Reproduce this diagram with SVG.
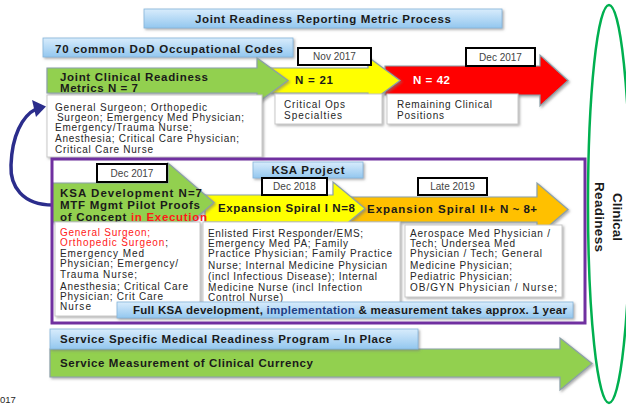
<svg xmlns="http://www.w3.org/2000/svg" width="626" height="406" viewBox="0 0 626 406">
<defs>
<linearGradient id="lb" x1="0" y1="0" x2="0" y2="1"><stop offset="0" stop-color="#d8ecfc"/><stop offset="1" stop-color="#93c7ef"/></linearGradient>
<filter id="sh" x="-5%" y="-20%" width="110%" height="150%"><feDropShadow dx="1.5" dy="1.5" stdDeviation="0.8" flood-color="#7a7a7a" flood-opacity="0.6"/></filter>
<style>
text{font-family:"Liberation Sans",Arial,sans-serif}
.b{font-weight:bold;font-size:11.5px;fill:#1a1a1a}
.s{font-size:10px;fill:#262626}
.d{font-size:10px;fill:#444;text-anchor:middle}
.ban{fill:url(#lb);stroke:#86b4da;stroke-width:0.8;filter:url(#sh)}
.box{fill:#fff;stroke:#c9c9c9;stroke-width:1;filter:url(#sh)}
.date{fill:#fff;stroke:#000;stroke-width:2}
.arr{stroke:#8a9fa8;stroke-width:1.2;filter:url(#sh)}
</style>
</defs>
<rect width="626" height="406" fill="#fff"/>

<g id="title"><rect class="ban" x="144" y="9" width="358" height="19"/><text class="b" x="195" y="22.5" textLength="256">Joint Readiness Reporting Metric Process</text></g>
<g id="codes"><rect class="ban" x="43" y="38" width="250" height="19"/><text class="b" x="55" y="52.5" textLength="228">70 common DoD Occupational Codes</text></g>

<g id="arrow-red"><polygon class="arr" fill="#ff0000" points="385,66 540,66 540,55 568,80.5 540,106 540,95 385,95"/><text class="b" x="413" y="84" textLength="37" style="fill:#fff">N = 42</text></g>
<g id="arrow-yellow"><polygon class="arr" fill="#ffff00" points="270,68 368,68 368,57 400,80.5 368,104 368,93 270,93"/><text class="b" x="295" y="84" textLength="38">N = 21</text></g>
<g id="arrow-green"><polygon class="arr" fill="#92d050" points="47,68 257,68 257,58 288,80.5 257,103 257,93 47,93"/><text class="b" x="60" y="80.5" textLength="148">Joint Clinical Readiness</text><text class="b" x="60" y="92" textLength="78">Metrics N = 7</text></g>

<g id="nov2017"><rect class="date" x="298" y="48" width="73" height="17"/><text class="d" x="334.5" y="60">Nov 2017</text></g>
<g id="dec2017a"><rect class="date" x="466" y="48" width="69" height="18"/><text class="d" x="500.5" y="60.5">Dec 2017</text></g>

<g id="box-jcr"><rect class="box" x="47" y="95" width="215" height="62"/>
<text class="s" x="55" y="110.5" textLength="152">General Surgeon; Orthopedic</text>
<text class="s" x="57" y="120.5" textLength="187">Surgeon; Emergency Med Physician;</text>
<text class="s" x="55" y="130.5" textLength="137">Emergency/Trauma Nurse;</text>
<text class="s" x="55" y="141.5" textLength="184">Anesthesia; Critical Care Physician;</text>
<text class="s" x="55" y="152.5" textLength="98">Critical Care Nurse</text></g>
<g id="box-critops"><rect class="box" x="275" y="94" width="107" height="30"/><text class="s" x="284" y="107.5" textLength="61">Critical Ops</text><text class="s" x="284" y="118.5" textLength="58">Specialties</text></g>
<g id="box-remaining"><rect class="box" x="387" y="94" width="131" height="30"/><text class="s" x="397" y="107.5" textLength="95">Remaining Clinical</text><text class="s" x="397" y="118.5" textLength="47">Positions</text></g>

<g id="connectors"><path d="M 53 205 C 22 205 10 186 11 165 C 12 136 22 116 36 109" fill="none" stroke="#2b2d8c" stroke-width="3.5"/><polygon points="46,106.5 32,100 36,117" fill="#2b2d8c"/></g>

<g id="ksa-project"><rect class="ban" x="253" y="162" width="110" height="16"/><text class="b" x="308" y="174" text-anchor="middle" textLength="73">KSA Project</text></g>

<g id="spiral2"><polygon class="arr" fill="#ffc000" points="350,197 537,197 537,183 568,209.5 537,236 537,222 350,222"/><text class="b" x="367" y="213" textLength="128">Expansion Spiral II+</text><text class="b" x="500" y="213" textLength="37">N ~ 8+</text></g>
<g id="spiral1"><polygon class="arr" fill="#ffff00" points="205,195 333,195 333,182 365,208.5 333,235 333,222 205,222"/><text class="b" x="218" y="212" textLength="137">Expansion Spiral I N=8</text></g>
<g id="ksa-dev"><polygon class="arr" fill="#92d050" points="52,183 168,183 168,163 214,202.5 168,242 168,222 52,222"/>
<text class="b" x="60" y="197" textLength="142">KSA Development  N=7</text>
<text class="b" x="60" y="208.5" textLength="140">MTF Mgmt Pilot Proofs</text>
<text class="b" x="60" y="221" textLength="147">of Concept <tspan fill="#ff1a1a">in Execution</tspan></text></g>

<g id="dec2017b"><rect class="date" x="97" y="164" width="70" height="18"/><text class="d" x="132" y="176.5">Dec 2017</text></g>
<g id="dec2018"><rect class="date" x="262" y="178" width="65" height="17"/><text class="d" x="294.5" y="190">Dec 2018</text></g>
<g id="late2019"><rect class="date" x="418" y="178" width="69" height="17"/><text class="d" x="452.5" y="190">Late 2019</text></g>

<g id="box-ksa"><rect class="box" x="55" y="222" width="145" height="94"/>
<text class="s" x="60" y="235.5" textLength="90" style="fill:#ff1a1a">General Surgeon;</text>
<text class="s" x="60" y="245.5" textLength="108"><tspan style="fill:#ff1a1a">Orthopedic Surgeon</tspan>;</text>
<text class="s" x="60" y="256.5" textLength="84">Emergency Med</text>
<text class="s" x="60" y="266.5" textLength="118">Physician; Emergency/</text>
<text class="s" x="60" y="278" textLength="77">Trauma Nurse;</text>
<text class="s" x="60" y="289.5" textLength="128">Anesthesia; Critical Care</text>
<text class="s" x="60" y="299.5" textLength="103">Physician; Crit Care</text>
<text class="s" x="60" y="309.5" textLength="31">Nurse</text></g>
<g id="box-spiral1"><rect class="box" x="203" y="222" width="197" height="82"/>
<text class="s" x="208" y="236.5" textLength="155">Enlisted First Responder/EMS;</text>
<text class="s" x="208" y="246.5" textLength="140">Emergency Med PA; Family</text>
<text class="s" x="208" y="257" textLength="184">Practice Physician; Family  Practice</text>
<text class="s" x="208" y="268.5" textLength="179">Nurse; Internal Medicine Physician</text>
<text class="s" x="208" y="279.5" textLength="169">(incl Infectious Disease); Internal</text>
<text class="s" x="208" y="290.5" textLength="154">Medicine Nurse (incl Infection</text>
<text class="s" x="208" y="301" textLength="75">Control Nurse)</text></g>
<g id="box-spiral2"><rect class="box" x="405" y="225" width="157" height="72"/>
<text class="s" x="410" y="237" textLength="140">Aerospace Med Physician /</text>
<text class="s" x="410" y="247" textLength="105">Tech; Undersea Med</text>
<text class="s" x="410" y="257" textLength="132">Physician / Tech; General</text>
<text class="s" x="410" y="268.5" textLength="102">Medicine Physician;</text>
<text class="s" x="410" y="279.5" textLength="102">Pediatric Physician;</text>
<text class="s" x="410" y="290.5" textLength="147">OB/GYN  Physician / Nurse;</text></g>

<g id="full-ksa"><rect class="ban" x="117" y="302" width="456" height="16"/><text class="b" x="133" y="314" textLength="434">Full KSA development, <tspan fill="#1f3f85">implementation</tspan> &amp; measurement takes approx. 1 year</text></g>

<rect id="ksa-frame" x="52" y="159" width="533" height="164" fill="none" stroke="#7030a0" stroke-width="3"/>

<g id="service-measure"><polygon class="arr" fill="#92d050" points="50,349 560,349 560,338 592,363.5 560,390 560,377 50,377"/><text class="b" x="60" y="367" textLength="253">Service Measurement of Clinical Currency</text></g>
<g id="service-program"><rect class="ban" x="50" y="329" width="368" height="20"/><text class="b" x="60" y="343" textLength="332">Service Specific Medical Readiness Program – In Place</text></g>

<g id="clinical-readiness"><ellipse cx="609" cy="204" rx="21" ry="199" fill="none" stroke="#00b050" stroke-width="2.5"/>
<text class="b" style="font-size:13.5px" transform="translate(613,217) rotate(90)" text-anchor="middle">Clinical</text>
<text class="b" style="font-size:13.5px" transform="translate(594.5,217) rotate(90)" text-anchor="middle" textLength="70">Readiness</text></g>

<text class="s" x="0" y="403" style="font-size:9.5px">017</text>
</svg>
